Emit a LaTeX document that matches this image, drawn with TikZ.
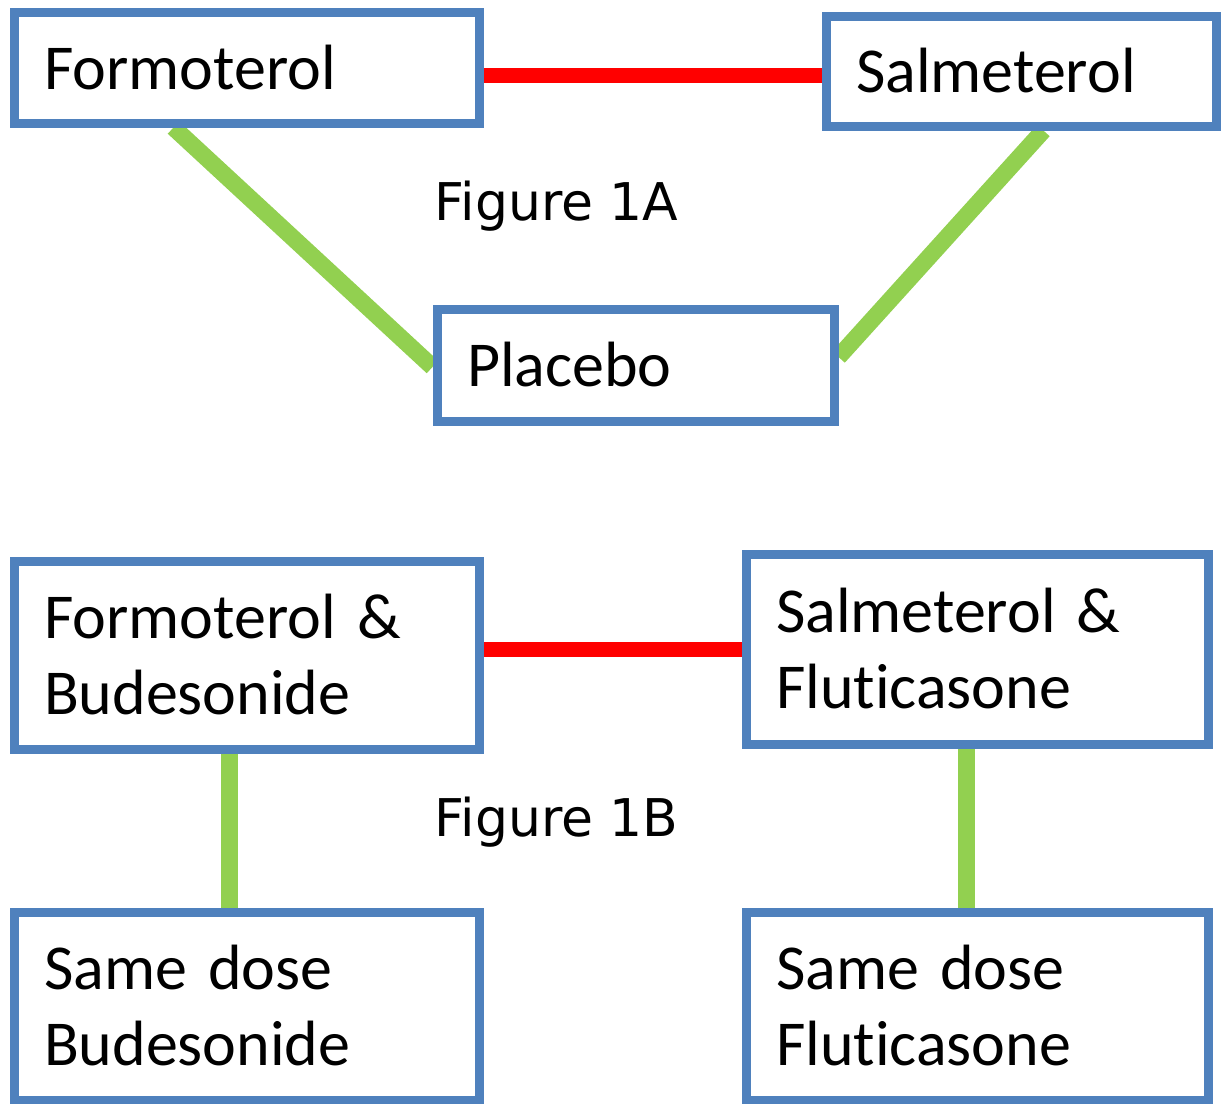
\documentclass[tikz,border=0pt]{standalone}
\usepackage{fontspec}
\newfontfamily\boxfont[Ligatures=NoCommon]{Carlito}
\newfontfamily\figfont{DejaVu Sans}
\usetikzlibrary{calc,backgrounds}
\definecolor{bleu}{RGB}{79,129,189}
\definecolor{vert}{RGB}{146,208,80}

\begin{document}
\begin{tikzpicture}[x=0.5pt,y=-0.5pt]
\tikzstyle{boite}=[draw=bleu, line width=4.5pt, fill=white, inner xsep=15pt, align=left,
  font=\boxfont\fontsize{32pt}{38pt}\selectfont]
\tikzstyle{titre}=[anchor=base, inner sep=0pt, font=\figfont\fontsize{26pt}{30pt}\selectfont]
\tikzstyle{rouge}=[draw=red, line width=7.5pt]
\tikzstyle{vertlien}=[draw=vert, line width=8.5pt]
\useasboundingbox (0,0) rectangle (1223,1104);
% Figure 1A
\node[boite, text width=202.5pt, minimum height=55.5pt] (formo) at (246.5,67.5) {Formoterol};
\node[boite, text width=165pt, minimum height=55pt] (salme) at (1021,71) {Salmeterol};
\node[boite, text width=168.5pt, minimum height=56pt] (placebo) at (635.5,365) {Placebo};
\node[titre] (figa) at (556.5,220) {Figure 1A};
% Figure 1B
\node[boite, text width=202.5pt, minimum height=94pt] (formobude) at (246.5,655) {Formoterol \&\\Budesonide};
\node[boite, text width=201pt, minimum height=95pt] (salmeflu) at (977,649) {Salmeterol \&\\Fluticasone};
\node[boite, text width=202.5pt, minimum height=94pt] (samebude) at (246.5,1006) {Same dose\\Budesonide};
\node[boite, text width=201pt, minimum height=94pt] (sameflu) at (977,1006) {Same dose\\Fluticasone};
\node[titre] (figb) at (556.5,836) {Figure 1B};
\begin{pgfonlayer}{background}
\draw[rouge] ($(formo.east)+(0,7.5)$) -- ($(salme.west)+(0,4)$);
\draw[vertlien] ($(formo.south west)!0.346!(formo.south east)$) -- ($(placebo.west)+(0,2)$);
\draw[vertlien] ($(salme.south west)!0.556!(salme.south east)$) -- ($(placebo.east)+(0,-8)$);
\draw[rouge] (salmeflu.west -| formobude.east) -- (salmeflu.west);
\draw[vertlien] ($(formobude.south)+(-17,0)$) coordinate (bb) -- (bb |- samebude.north);
\draw[vertlien] ($(salmeflu.south)+(-11,0)$) coordinate (ff) -- (ff |- sameflu.north);
\end{pgfonlayer}
\end{tikzpicture}
\end{document}
